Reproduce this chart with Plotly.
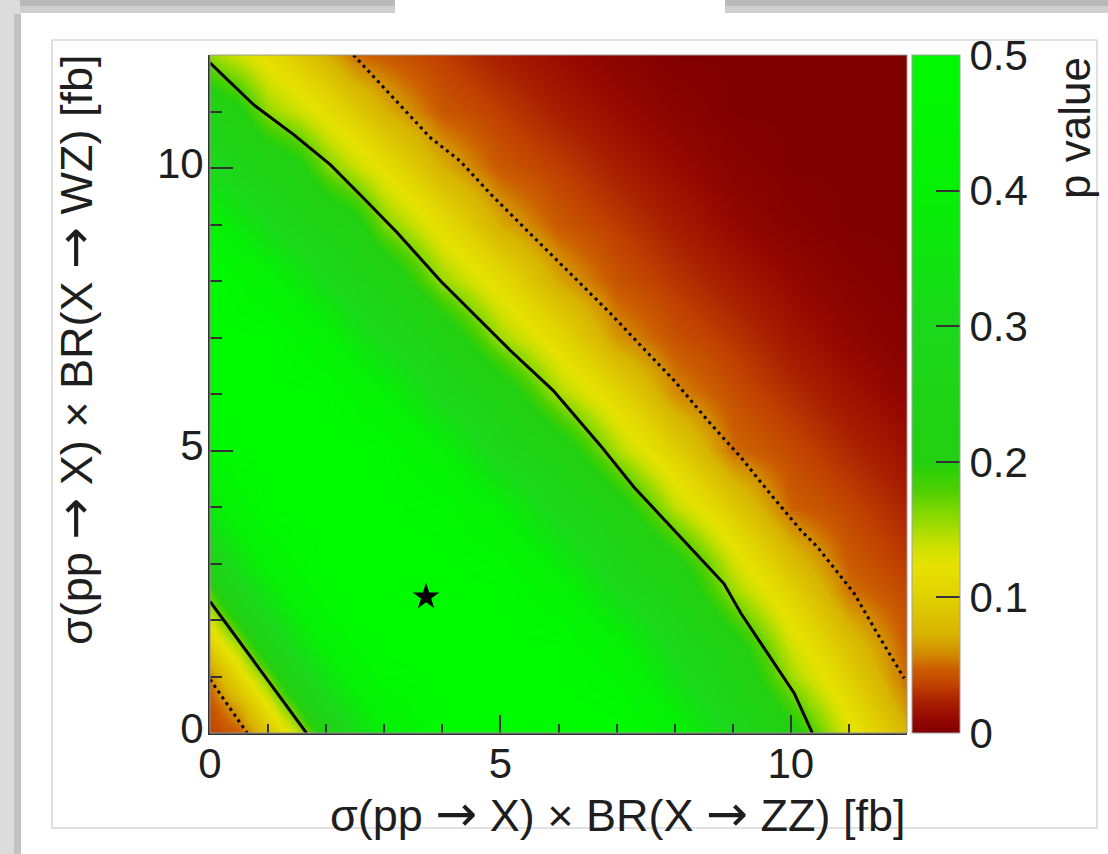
import plotly.graph_objects as go

# Grid of the p-value map (fine spacing near the origin)
sigma_zz = [0, 0.5, 1, 1.5, 2, 2.5, 3, 4, 5, 6, 7, 8, 9, 10, 11, 12]
sigma_wz = [0, 0.5, 1, 1.5, 2, 2.5, 3, 4, 5, 6, 7, 8, 9, 10, 11, 12]

# p value, one row per sigma_wz entry, one column per sigma_zz entry
p_value = [
    [0.035, 0.046, 0.086, 0.140, 0.217, 0.316, 0.392, 0.5, 0.5, 0.5, 0.5, 0.423, 0.289, 0.211, 0.129, 0.075],
    [0.043, 0.070, 0.125, 0.192, 0.288, 0.370, 0.440, 0.5, 0.5, 0.5, 0.492, 0.376, 0.257, 0.182, 0.114, 0.060],
    [0.055, 0.109, 0.166, 0.260, 0.349, 0.423, 0.482, 0.5, 0.5, 0.5, 0.460, 0.328, 0.237, 0.153, 0.099, 0.049],
    [0.094, 0.148, 0.231, 0.328, 0.402, 0.465, 0.5, 0.5, 0.5, 0.5, 0.422, 0.294, 0.218, 0.137, 0.085, 0.046],
    [0.133, 0.205, 0.302, 0.381, 0.448, 0.5, 0.5, 0.5, 0.5, 0.468, 0.364, 0.260, 0.186, 0.119, 0.069, 0.042],
    [0.179, 0.274, 0.360, 0.431, 0.491, 0.5, 0.5, 0.5, 0.5, 0.430, 0.310, 0.236, 0.155, 0.102, 0.053, 0.038],
    [0.246, 0.339, 0.413, 0.474, 0.5, 0.5, 0.5, 0.5, 0.480, 0.376, 0.269, 0.213, 0.136, 0.083, 0.046, 0.033],
    [0.371, 0.440, 0.499, 0.5, 0.5, 0.5, 0.5, 0.484, 0.395, 0.282, 0.218, 0.142, 0.093, 0.048, 0.037, 0.024],
    [0.466, 0.5, 0.5, 0.5, 0.5, 0.5, 0.490, 0.403, 0.277, 0.225, 0.149, 0.099, 0.051, 0.039, 0.026, 0.015],
    [0.5, 0.5, 0.5, 0.5, 0.495, 0.454, 0.408, 0.288, 0.227, 0.151, 0.106, 0.059, 0.041, 0.028, 0.016, 0.007],
    [0.5, 0.5, 0.5, 0.462, 0.419, 0.353, 0.298, 0.230, 0.154, 0.109, 0.062, 0.042, 0.031, 0.018, 0.008, 0.002],
    [0.5, 0.466, 0.427, 0.369, 0.307, 0.262, 0.235, 0.157, 0.113, 0.068, 0.043, 0.031, 0.020, 0.010, 0.003, 0.0],
    [0.424, 0.365, 0.309, 0.267, 0.240, 0.215, 0.165, 0.115, 0.070, 0.045, 0.033, 0.021, 0.010, 0.003, 0.0, 0.0],
    [0.303, 0.263, 0.238, 0.213, 0.167, 0.141, 0.118, 0.072, 0.045, 0.034, 0.022, 0.012, 0.004, 0.0, 0.0, 0.0],
    [0.233, 0.208, 0.158, 0.139, 0.117, 0.095, 0.073, 0.045, 0.034, 0.022, 0.012, 0.005, 0.0, 0.0, 0.0, 0.0],
    [0.156, 0.136, 0.115, 0.094, 0.073, 0.050, 0.045, 0.034, 0.022, 0.012, 0.005, 0.0, 0.0, 0.0, 0.0, 0.0],
]

# Contour lines (solid: 1 sigma band edge, dotted: 2 sigma band edge)
outer_solid_x = [0.0, 0.75, 1.44, 2.07, 2.64, 3.22, 3.97, 4.48, 5.17, 5.91, 6.72, 7.30, 7.99, 8.85, 9.14, 9.60, 10.06, 10.37]
outer_solid_y = [11.86, 11.12, 10.59, 10.06, 9.47, 8.86, 8.00, 7.47, 6.77, 6.06, 5.09, 4.35, 3.59, 2.64, 2.12, 1.41, 0.70, 0.0]
inner_solid_x = [0.0, 1.66]
inner_solid_y = [2.33, 0.0]
outer_dot_x = [2.47, 3.10, 3.79, 4.31, 4.83, 5.52, 6.21, 6.90, 7.44, 7.99, 8.62, 9.14, 9.60, 10.17, 10.46, 11.09, 11.49, 11.95]
outer_dot_y = [12.0, 11.30, 10.54, 10.12, 9.54, 8.83, 8.12, 7.42, 6.83, 6.24, 5.47, 4.88, 4.29, 3.59, 3.29, 2.47, 1.76, 0.97]
inner_dot_x = [0.0, 0.64]
inner_dot_y = [0.95, 0.0]

# Best-fit point
best_x = [3.72]
best_y = [2.41]

cb_ticks = [0, 0.1, 0.2, 0.3, 0.4, 0.5]
cb_labels = ["0", "0.1", "0.2", "0.3", "0.4", "0.5"]
axis_ticks = [0, 5, 10]
axis_labels = ["0", "5", "10"]

palette = [
    [0.0, "#800000"],
    [0.02, "#940800"],
    [0.046, "#a82000"],
    [0.07, "#c04000"],
    [0.096, "#cc6000"],
    [0.116, "#d28a00"],
    [0.146, "#d8b400"],
    [0.2, "#e0d000"],
    [0.246, "#e6e200"],
    [0.276, "#cce000"],
    [0.30, "#a8dc00"],
    [0.326, "#80d800"],
    [0.356, "#50d000"],
    [0.386, "#30d008"],
    [0.40, "#22d010"],
    [0.60, "#1cd81c"],
    [0.70, "#10e410"],
    [0.80, "#06f006"],
    [1.0, "#00fa00"],
]

W, H = 1108, 854
L, R, T, B = 210, 907, 55, 733  # plot area in pixels


def fx(px):
    return (px - L) / (R - L)


def fy(py):
    return (B - py) / (B - T)


FONT = "Liberation Sans, Arial, Helvetica, sans-serif"
INK = "#1e1e1e"
ARROW = '<span style="font-family:DejaVu Sans;font-size:50px">→</span>'

fig = go.Figure()

fig.add_trace(go.Heatmap(
    x=sigma_zz, y=sigma_wz, z=p_value,
    zmin=0, zmax=0.5, zsmooth="best",
    colorscale=palette,
    hoverinfo="skip",
    colorbar=dict(
        x=fx(912), xanchor="left", xpad=0,
        y=0.5, yanchor="middle", ypad=0,
        len=1, lenmode="fraction",
        thickness=48, thicknessmode="pixels",
        outlinewidth=1, outlinecolor="#a0a0a0",
        ticks="inside", ticklen=24, tickwidth=2, tickcolor="#333333",
        tickvals=cb_ticks, ticktext=cb_labels,
        tickfont=dict(family=FONT, size=42, color=INK),
    ),
))

line_style = dict(color="black", width=3)
dot_style = dict(color="black", width=3, dash="3px,4px")

fig.add_trace(go.Scatter(x=outer_solid_x, y=outer_solid_y, mode="lines",
                         line=line_style, showlegend=False, hoverinfo="skip"))
fig.add_trace(go.Scatter(x=inner_solid_x, y=inner_solid_y, mode="lines",
                         line=line_style, showlegend=False, hoverinfo="skip"))
fig.add_trace(go.Scatter(x=outer_dot_x, y=outer_dot_y, mode="lines",
                         line=dot_style, showlegend=False, hoverinfo="skip"))
fig.add_trace(go.Scatter(x=inner_dot_x, y=inner_dot_y, mode="lines",
                         line=dot_style, showlegend=False, hoverinfo="skip"))
fig.add_trace(go.Scatter(x=best_x, y=best_y, mode="markers",
                         marker=dict(symbol="star", size=20, color="black"),
                         showlegend=False, hoverinfo="skip"))

axis_common = dict(
    range=[0, 12], showgrid=False, zeroline=False,
    showline=True, linecolor="#333333", linewidth=2,
    ticks="inside", tickwidth=2, tickcolor="#333333",
    tickvals=axis_ticks, ticktext=axis_labels,
    tickfont=dict(family=FONT, size=42, color=INK),
)

fig.update_xaxes(**axis_common, ticklen=18, ticklabelstandoff=-7,
                 minor=dict(dtick=1, tick0=0, ticks="inside", ticklen=9,
                            tickwidth=1.5, tickcolor="#333333"))
fig.update_yaxes(**axis_common, ticklen=23, ticklabelstandoff=-4,
                 ticklabelshift=-5,
                 minor=dict(dtick=1, tick0=0, ticks="inside", ticklen=12,
                            tickwidth=1.5, tickcolor="#333333"))

title_font = dict(family=FONT, size=45, color=INK)
annotations = [
    dict(text=f"σ(pp {ARROW} X) × BR(X {ARROW} ZZ) [fb]", xref="paper", yref="paper",
         x=1.0, xanchor="right", y=fy(814), yanchor="middle",
         showarrow=False, font=title_font),
    dict(text=f"σ(pp {ARROW} X) × BR(X {ARROW} WZ) [fb]", xref="paper", yref="paper",
         x=fx(75), xanchor="center", y=fy(53), yanchor="top",
         textangle=-90, showarrow=False, font=title_font),
    dict(text="p value", xref="paper", yref="paper",
         x=fx(1074), xanchor="center", y=fy(55), yanchor="top",
         textangle=-90, showarrow=False, font=dict(family=FONT, size=44, color=INK)),
]

# Page frame and edge shading around the figure
shapes = [
    dict(type="rect", xref="paper", yref="paper", layer="below",
         x0=fx(0), x1=fx(395), y0=fy(13), y1=fy(0),
         fillcolor="#cfcfcf", line=dict(width=0)),
    dict(type="rect", xref="paper", yref="paper", layer="below",
         x0=fx(0), x1=fx(395), y0=fy(6), y1=fy(0),
         fillcolor="#b9b9b9", line=dict(width=0)),
    dict(type="rect", xref="paper", yref="paper", layer="below",
         x0=fx(725), x1=fx(W), y0=fy(13), y1=fy(0),
         fillcolor="#cfcfcf", line=dict(width=0)),
    dict(type="rect", xref="paper", yref="paper", layer="below",
         x0=fx(725), x1=fx(W), y0=fy(6), y1=fy(0),
         fillcolor="#b9b9b9", line=dict(width=0)),
    dict(type="rect", xref="paper", yref="paper", layer="below",
         x0=fx(0), x1=fx(20), y0=fy(H), y1=fy(0),
         fillcolor="#dcdcdc", line=dict(width=0)),
    dict(type="rect", xref="paper", yref="paper", layer="below",
         x0=fx(14), x1=fx(21), y0=fy(H), y1=fy(14),
         fillcolor="#c2c2c2", line=dict(width=0)),
    dict(type="rect", xref="paper", yref="paper", layer="below",
         x0=fx(52), x1=fx(1097), y0=fy(828), y1=fy(40),
         fillcolor="rgba(0,0,0,0)", line=dict(color="#d8d8d8", width=1.5)),
    dict(type="rect", xref="paper", yref="paper", layer="above",
         x0=0, x1=1, y0=0, y1=1,
         fillcolor="rgba(0,0,0,0)", line=dict(color="#9a9a9a", width=1)),
]

fig.update_layout(
    width=W, height=H,
    margin=dict(l=L, r=W - R, t=T, b=H - B, pad=0),
    paper_bgcolor="white", plot_bgcolor="white",
    showlegend=False,
    annotations=annotations,
    shapes=shapes,
)

fig.write_html("out.html")
